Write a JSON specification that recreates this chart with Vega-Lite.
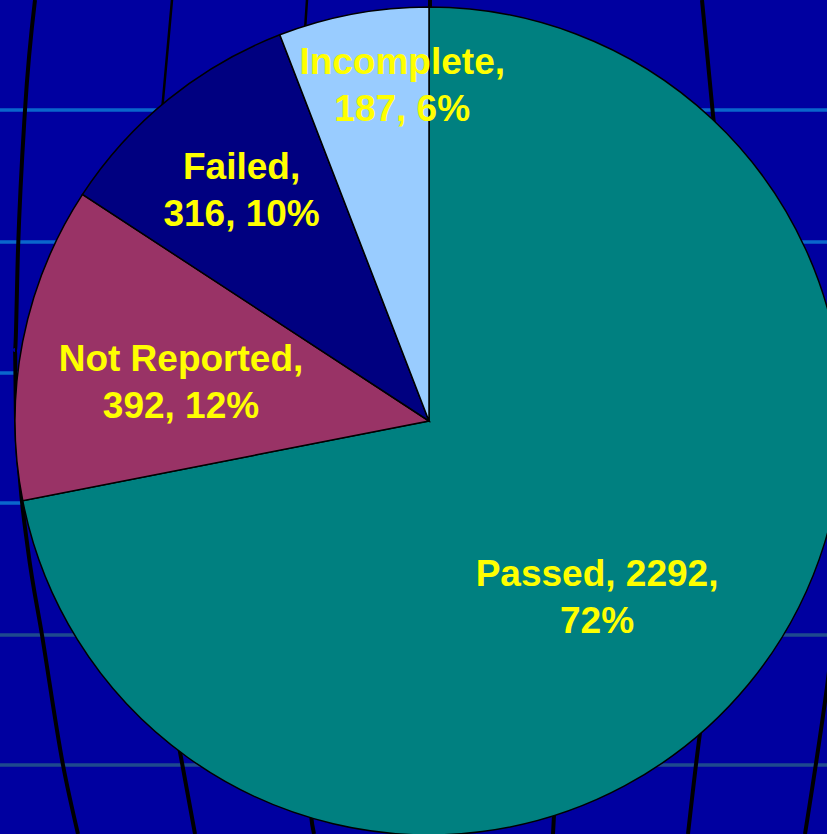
{
  "$schema": "https://vega.github.io/schema/vega-lite/v6.json",
  "width": 796,
  "height": 826,
  "padding": {"left": 31, "top": 8, "right": 0, "bottom": 0},
  "autosize": {"type": "none"},
  "background": "#0000A0",
  "config": {"view": {"stroke": null}},
  "datasets": {
    "slices": [
      {"status": "Passed", "count": 2292, "rank": 1, "label": "Passed, 2292,\n72%"},
      {"status": "Not Reported", "count": 392, "rank": 2, "label": "Not Reported,\n392, 12%"},
      {"status": "Failed", "count": 316, "rank": 3, "label": "Failed,\n316, 10%"},
      {"status": "Incomplete", "count": 187, "rank": 4, "label": "Incomplete,\n187, 6%"}
    ],
    "parallels": [
      {"h": 110, "tone": "upper"},
      {"h": 242, "tone": "upper"},
      {"h": 373, "tone": "upper"},
      {"h": 503, "tone": "upper"},
      {"h": 635, "tone": "lower"},
      {"h": 765, "tone": "lower"}
    ],
    "meridians": [
      {"m": "A", "w": "heavy", "gx": 35, "gy": 0},
      {"m": "A", "w": "heavy", "gx": 25, "gy": 110},
      {"m": "A", "w": "heavy", "gx": 18, "gy": 250},
      {"m": "A", "w": "heavy", "gx": 15, "gy": 350},
      {"m": "A", "w": "heavy", "gx": 16, "gy": 420},
      {"m": "A", "w": "heavy", "gx": 20, "gy": 480},
      {"m": "A", "w": "heavy", "gx": 28, "gy": 550},
      {"m": "A", "w": "heavy", "gx": 42, "gy": 635},
      {"m": "A", "w": "heavy", "gx": 63, "gy": 765},
      {"m": "A", "w": "heavy", "gx": 78, "gy": 834},
      {"m": "B1", "w": "thin", "gx": 172, "gy": 0},
      {"m": "B1", "w": "thin", "gx": 163, "gy": 100},
      {"m": "B1", "w": "thin", "gx": 152, "gy": 200},
      {"m": "B2", "w": "heavy", "gx": 170, "gy": 700},
      {"m": "B2", "w": "heavy", "gx": 180, "gy": 752},
      {"m": "B2", "w": "heavy", "gx": 195, "gy": 834},
      {"m": "C1", "w": "thin", "gx": 307, "gy": 0},
      {"m": "C1", "w": "thin", "gx": 305, "gy": 30},
      {"m": "C1", "w": "thin", "gx": 302, "gy": 80},
      {"m": "C2", "w": "heavy", "gx": 309, "gy": 790},
      {"m": "C2", "w": "heavy", "gx": 311, "gy": 815},
      {"m": "C2", "w": "heavy", "gx": 314, "gy": 834},
      {"m": "D", "w": "heavy", "gx": 430, "gy": 0},
      {"m": "D", "w": "heavy", "gx": 430, "gy": 30},
      {"m": "E", "w": "heavy", "gx": 556, "gy": 780},
      {"m": "E", "w": "heavy", "gx": 554, "gy": 815},
      {"m": "E", "w": "heavy", "gx": 553, "gy": 834},
      {"m": "F", "w": "heavy", "gx": 702, "gy": 0},
      {"m": "F", "w": "heavy", "gx": 713, "gy": 115},
      {"m": "F", "w": "heavy", "gx": 720, "gy": 180},
      {"m": "G", "w": "heavy", "gx": 708, "gy": 680},
      {"m": "G", "w": "heavy", "gx": 700, "gy": 733},
      {"m": "G", "w": "heavy", "gx": 688, "gy": 834},
      {"m": "H", "w": "heavy", "gx": 838, "gy": 600},
      {"m": "H", "w": "heavy", "gx": 827, "gy": 687},
      {"m": "H", "w": "heavy", "gx": 805, "gy": 834}
    ]
  },
  "layer": [
    {
      "data": {"name": "parallels"},
      "transform": [{"filter": "datum.tone === 'upper'"}],
      "mark": {"type": "rule", "color": "#0A66CC", "strokeWidth": 3.5},
      "encoding": {
        "x": {"datum": 0, "type": "quantitative", "scale": {"domain": [31, 827], "nice": false, "zero": false}, "axis": null},
        "x2": {"datum": 827},
        "y": {"field": "h", "type": "quantitative", "scale": {"domain": [834, 8], "nice": false, "zero": false}, "axis": null}
      }
    },
    {
      "data": {"name": "parallels"},
      "transform": [{"filter": "datum.tone === 'lower'"}],
      "mark": {"type": "rule", "color": "#1E4A8E", "strokeWidth": 3.5},
      "encoding": {
        "x": {"datum": 0, "type": "quantitative", "axis": null},
        "x2": {"datum": 827},
        "y": {"field": "h", "type": "quantitative", "axis": null}
      }
    },
    {
      "data": {"name": "meridians"},
      "transform": [{"filter": "datum.w === 'heavy'"}],
      "mark": {"type": "line", "color": "#000000", "strokeWidth": 4, "interpolate": "monotone"},
      "encoding": {
        "x": {"field": "gx", "type": "quantitative", "axis": null},
        "y": {"field": "gy", "type": "quantitative", "axis": null},
        "detail": {"field": "m"},
        "order": {"field": "gy"}
      }
    },
    {
      "data": {"name": "meridians"},
      "transform": [{"filter": "datum.w === 'thin'"}],
      "mark": {"type": "line", "color": "#000000", "strokeWidth": 2.5, "interpolate": "monotone"},
      "encoding": {
        "x": {"field": "gx", "type": "quantitative", "axis": null},
        "y": {"field": "gy", "type": "quantitative", "axis": null},
        "detail": {"field": "m"},
        "order": {"field": "gy"}
      }
    },
    {
      "data": {"name": "slices"},
      "mark": {"type": "arc", "radius": 414, "stroke": "#000000", "strokeWidth": 1.5},
      "encoding": {
        "theta": {"field": "count", "type": "quantitative", "stack": true},
        "order": {"field": "rank"},
        "color": {
          "field": "status",
          "type": "nominal",
          "scale": {"domain": ["Passed", "Not Reported", "Failed", "Incomplete"], "range": ["#008080", "#993366", "#000080", "#99CCFF"]},
          "legend": null
        }
      }
    },
    {
      "data": {"name": "slices"},
      "mark": {"type": "text", "radius": 242.6, "thetaOffset": 0.117, "dy": -21, "font": "Liberation Sans", "fontWeight": "bold", "fontSize": 37, "lineHeight": 47, "lineBreak": "\n", "color": "#FFFF00", "align": "center", "baseline": "middle"},
      "encoding": {
        "theta": {"field": "count", "type": "quantitative", "stack": true},
        "order": {"field": "rank"},
        "text": {"condition": {"test": "datum.status === 'Passed'", "field": "label"}, "value": ""}
      }
    },
    {
      "data": {"name": "slices"},
      "mark": {"type": "text", "radius": 251.2, "thetaOffset": -0.033, "dy": -21, "font": "Liberation Sans", "fontWeight": "bold", "fontSize": 37, "lineHeight": 47, "lineBreak": "\n", "color": "#FFFF00", "align": "center", "baseline": "middle"},
      "encoding": {
        "theta": {"field": "count", "type": "quantitative", "stack": true},
        "order": {"field": "rank"},
        "text": {"condition": {"test": "datum.status === 'Not Reported'", "field": "label"}, "value": ""}
      }
    },
    {
      "data": {"name": "slices"},
      "mark": {"type": "text", "radius": 298, "thetaOffset": 0.0, "dy": -21, "font": "Liberation Sans", "fontWeight": "bold", "fontSize": 37, "lineHeight": 47, "lineBreak": "\n", "color": "#FFFF00", "align": "center", "baseline": "middle"},
      "encoding": {
        "theta": {"field": "count", "type": "quantitative", "stack": true},
        "order": {"field": "rank"},
        "text": {"condition": {"test": "datum.status === 'Failed'", "field": "label"}, "value": ""}
      }
    },
    {
      "data": {"name": "slices"},
      "mark": {"type": "text", "radius": 338.1, "thetaOffset": 0.105, "dy": -21, "font": "Liberation Sans", "fontWeight": "bold", "fontSize": 37, "lineHeight": 47, "lineBreak": "\n", "color": "#FFFF00", "align": "center", "baseline": "middle"},
      "encoding": {
        "theta": {"field": "count", "type": "quantitative", "stack": true},
        "order": {"field": "rank"},
        "text": {"condition": {"test": "datum.status === 'Incomplete'", "field": "label"}, "value": ""}
      }
    }
  ]
}
